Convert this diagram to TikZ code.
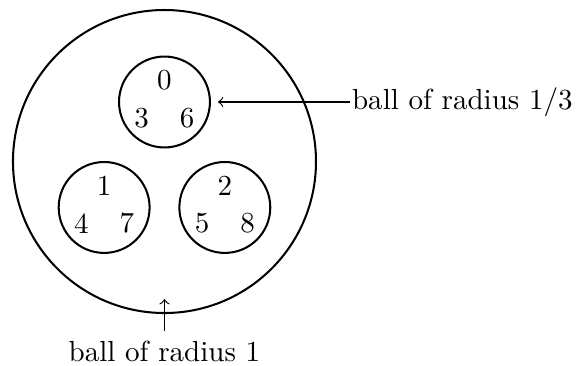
\documentclass[tikz,border=0pt]{standalone}
\usepackage{tikz}
\usetikzlibrary{positioning,calc}

\begin{document}
\begin{tikzpicture}[
    ball/.style={draw, circle, line width=0.7pt, inner sep=0pt},
    bigball/.style={ball, minimum size=3.666cm},
    smallball/.style={ball, minimum size=1.1cm},
    digit/.style={inner sep=0pt},
    arrow/.style={->},
    every node/.style={font=\normalsize},
  ]
  \useasboundingbox (-1.99,-2.474) rectangle (5.015,1.954);

  % Outer ball
  \node[bigball] at (0, 0) (big) {};

  % Inner balls
  \node[smallball] at (0, 0.72) (b0) {};
  \node[smallball] at (-0.73, -0.556) (b1) {};
  \node[smallball] at (0.73, -0.556) (b2) {};

  % Points in each ball
  \node[digit] at ($(b0)+(0,0.26)$) (d0) {0};
  \node[digit] at ($(b0)+(-0.275,-0.19)$) (d3) {3};
  \node[digit] at ($(b0)+(0.275,-0.19)$) (d6) {6};
  \node[digit] at ($(b1)+(0,0.26)$) (d1) {1};
  \node[digit] at ($(b1)+(-0.275,-0.19)$) (d4) {4};
  \node[digit] at ($(b1)+(0.275,-0.19)$) (d7) {7};
  \node[digit] at ($(b2)+(0,0.26)$) (d2) {2};
  \node[digit] at ($(b2)+(-0.275,-0.19)$) (d5) {5};
  \node[digit] at ($(b2)+(0.275,-0.19)$) (d8) {8};

  % Labels
  \node[anchor=west, inner sep=0.5pt] at (2.245, 0.72) (lab3)
    {ball of radius $1/3$};
  \node at (0, -2.30) (lab1) {ball of radius $1$};
  \coordinate (tip1) at (0, -1.664);

  % Arrows
  \draw[arrow] (lab3.west) -- (b0.east) [shorten >=2.4pt];
  \draw[arrow] (lab1.north) -- (tip1);

\end{tikzpicture}
\end{document}
